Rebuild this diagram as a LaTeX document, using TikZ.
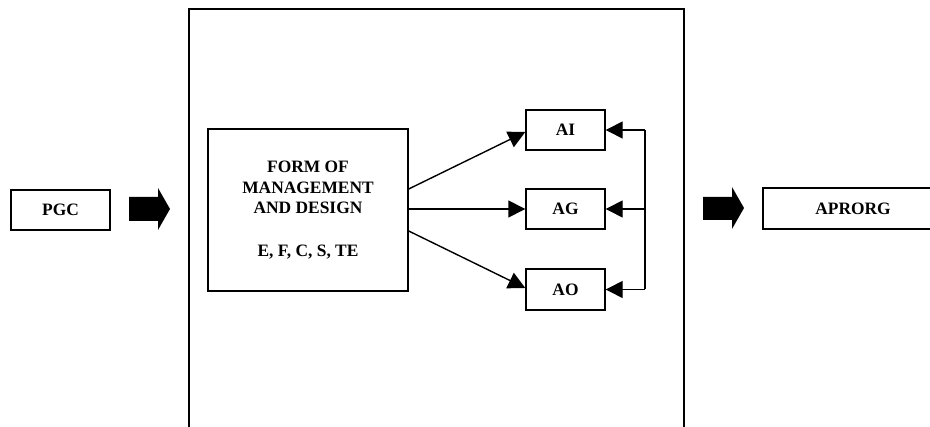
\documentclass[tikz,border=0pt]{standalone}
\usepackage{fontspec}
\setmainfont{Liberation Serif}
\usetikzlibrary{arrows.meta}
\begin{document}
\begin{tikzpicture}[x=1pt,y=-1pt,
  lw/.style={line width=1.4pt},
  box/.style={draw,lw,inner sep=0pt,font=\fontsize{17.4}{20.5}\selectfont\bfseries,align=center},
  arr/.style={lw,-{Triangle[length=17pt,width=17pt]}},
  fat/.style={fill=black}]
\useasboundingbox (0,0) rectangle (930,427);
% outer frame (open at the bottom)
\draw[lw] (189,427) -- (189,9) -- (684,9) -- (684,427);
% nodes
\node[box,minimum width=99pt,minimum height=40pt] (PGC) at (60.5,210) {PGC};
\node[box,minimum width=200pt,minimum height=162pt] (FORM) at (308,210)
  {FORM OF\\MANAGEMENT\\AND DESIGN\\[22pt]E, F, C, S, TE};
\node[box,minimum width=79pt,minimum height=40pt] (AI) at (565.5,130) {AI};
\node[box,minimum width=79pt,minimum height=40pt] (AG) at (565.5,209) {AG};
\node[box,minimum width=79pt,minimum height=41pt] (AO) at (565.5,289.5) {AO};
\node[box,draw=none,minimum height=41pt] (APRORG) at (853,208.5) {APRORG};
\draw[lw] (930,188) -- (763,188) -- (763,229) -- (930,229);
% thick arrows
\fill[fat] (129,197) -- (158,197) -- (158,188) -- (170,209) -- (158,230) -- (158,221) -- (129,221) -- cycle;
\fill[fat] (703,197) -- (732,197) -- (732,187) -- (744,208) -- (732,229) -- (732,220) -- (703,220) -- cycle;
% arrows from FORM
\draw[arr] ([yshift=21pt]FORM.east) -- ([yshift=-2pt]AI.west);
\draw[arr] ([yshift=1pt]FORM.east) -- (AG.west);
\draw[arr] ([yshift=-21pt]FORM.east) -- ([yshift=1.5pt]AO.west);
% feedback
\coordinate (fbTop) at (645,130);
\coordinate (fbBot) at (645,289.5);
\draw[lw] (fbTop) -- (fbBot);
\draw[arr] (fbTop) -- (AI.east);
\draw[arr] (AG.east -| fbTop) -- (AG.east);
\draw[arr] (fbBot) -- (AO.east);
\end{tikzpicture}
\end{document}
